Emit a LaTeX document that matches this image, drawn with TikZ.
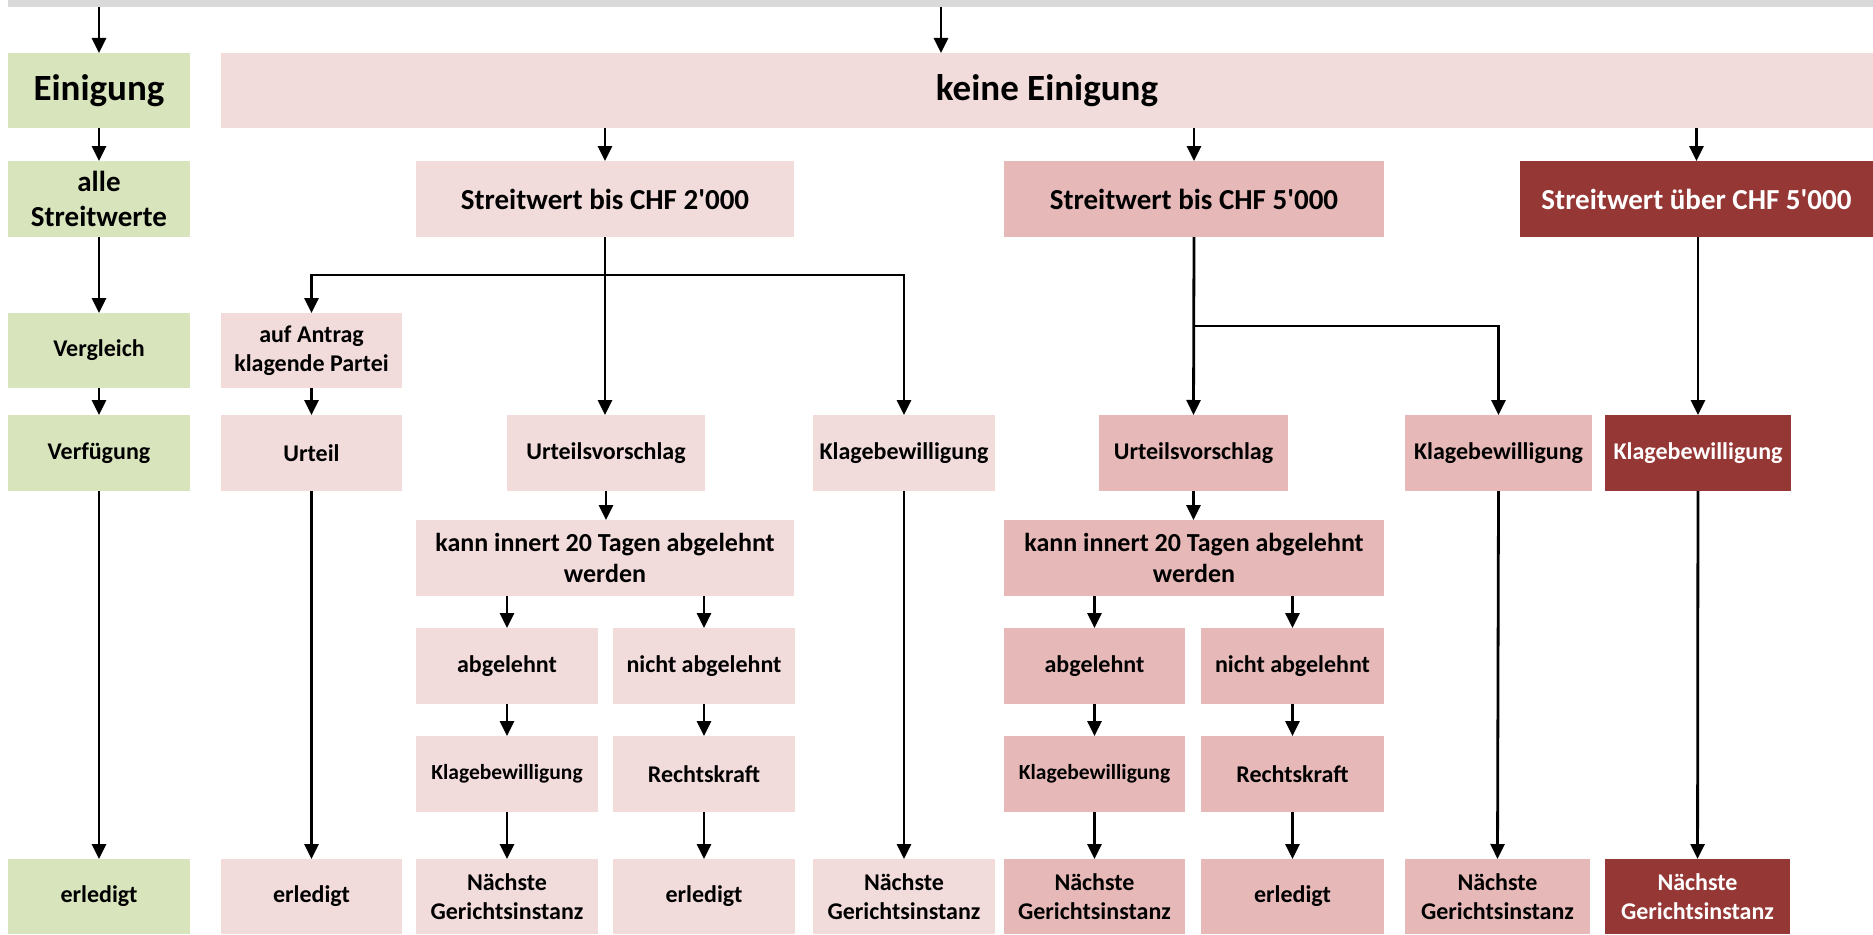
\documentclass[tikz,border=0pt]{standalone}
\usepackage{fontspec}
\setmainfont{Carlito}
\usetikzlibrary{arrows.meta}
\definecolor{cgreen}{HTML}{D8E4BC}
\definecolor{cpinkA}{HTML}{F2DCDB}
\definecolor{cpinkB}{HTML}{E6B9B8}
\definecolor{cdark}{HTML}{953735}
\definecolor{cgray}{HTML}{D9D9D9}
\newcommand\bx[7]{\node[box,#6,minimum width={(#4-#2)*1pt},minimum height={(#5-#3)*1pt}] (#1) at ({(#2+#4)/2},{(#3+#5)/2}) {#7};}
\tikzset{
  box/.style={rectangle, inner sep=0pt, outer sep=0pt, align=center, draw=none,
    font=\bfseries\fontsize{24}{29}\selectfont, text=black},
  gr/.style={fill=cgreen},
  pa/.style={fill=cpinkA},
  pb/.style={fill=cpinkB},
  dk/.style={fill=cdark, text=white},
  big/.style={font=\bfseries\fontsize{37}{44}\selectfont},
  head/.style={font=\bfseries\fontsize{29}{35}\selectfont},
  mid/.style={font=\bfseries\fontsize{26}{31}\selectfont},
  small/.style={font=\bfseries\fontsize{21.5}{26}\selectfont},
  arr/.style={draw=black, line width=2.8pt, -{Triangle[length=15pt,width=14pt]}},
  ln/.style={draw=black, line width=2.8pt}
}
\begin{document}
\begin{tikzpicture}[x=1pt,y=-1pt]
\useasboundingbox (0,0) rectangle (1873,934);
% top bar
\bx{top}{8}{0}{1873}{7}{fill=cgray}{}
% green column
\bx{ein}{8}{53}{190}{128}{gr,big}{Einigung}
\bx{alle}{8}{161}{190}{237}{gr,head}{alle\\Streitwerte}
\bx{vgl}{8}{313}{190}{388}{gr}{Vergleich}
\bx{verf}{8}{415}{190}{491}{gr}{Verfügung}
\bx{erl0}{8}{859}{190}{934}{gr}{erledigt}
% keine Einigung
\bx{keine}{221}{53}{1873}{128}{pa,big}{keine Einigung}
% column A
\bx{antrag}{221}{313}{402}{388}{pa}{auf Antrag\\klagende Partei}
\bx{urteil}{221}{415}{402}{491}{pa}{Urteil}
\bx{erl1}{221}{859}{402}{934}{pa}{erledigt}
% CHF 2000
\bx{sA}{416}{161}{794}{237}{pa,head}{Streitwert bis CHF 2\textquotesingle 000}
\bx{usA}{507}{415}{705}{491}{pa}{Urteilsvorschlag}
\bx{kannA}{416}{520}{794}{596}{pa,mid}{kann innert 20 Tagen abgelehnt\\werden}
\bx{abgA}{416}{628}{598}{704}{pa}{abgelehnt}
\bx{nabA}{613}{628}{795}{704}{pa}{nicht abgelehnt}
\bx{kbA}{416}{736}{598}{812}{pa,small}{Klagebewilligung}
\bx{rkA}{613}{736}{795}{812}{pa}{Rechtskraft}
\bx{nA}{416}{859}{598}{934}{pa}{Nächste\\Gerichtsinstanz}
\bx{erlA}{613}{859}{795}{934}{pa}{erledigt}
\bx{kbA2}{813}{415}{995}{491}{pa}{Klagebewilligung}
\bx{nA2}{813}{859}{995}{934}{pa}{Nächste\\Gerichtsinstanz}
% CHF 5000
\bx{sB}{1004}{161}{1384}{237}{pb,head}{Streitwert bis CHF 5\textquotesingle 000}
\bx{usB}{1099}{415}{1288}{491}{pb}{Urteilsvorschlag}
\bx{kannB}{1004}{520}{1384}{596}{pb,mid}{kann innert 20 Tagen abgelehnt\\werden}
\bx{abgB}{1004}{628}{1185}{704}{pb}{abgelehnt}
\bx{nabB}{1201}{628}{1384}{704}{pb}{nicht abgelehnt}
\bx{kbB}{1004}{736}{1185}{812}{pb,small}{Klagebewilligung}
\bx{rkB}{1201}{736}{1384}{812}{pb}{Rechtskraft}
\bx{nB}{1004}{859}{1185}{934}{pb}{Nächste\\Gerichtsinstanz}
\bx{erlB}{1201}{859}{1384}{934}{pb}{erledigt}
\bx{kbB2}{1405}{415}{1592}{491}{pb}{Klagebewilligung}
\bx{nB2}{1405}{859}{1590}{934}{pb}{Nächste\\Gerichtsinstanz}
% over CHF 5000
\bx{sC}{1520}{161}{1873}{237}{dk,head}{Streitwert über CHF 5\textquotesingle 000}
\bx{kbC}{1605}{415}{1791}{491}{dk}{Klagebewilligung}
\bx{nC}{1605}{859}{1790}{934}{dk}{Nächste\\Gerichtsinstanz}
% connectors
\coordinate (kx) at (941,0);
\draw[arr] (top.south -| ein.north) -- (ein.north);
\draw[arr] (top.south -| kx) -- (keine.north -| kx);
\draw[arr] (ein) -- (alle);
\draw[arr] (alle) -- (vgl);
\draw[arr] (vgl) -- (verf);
\draw[arr] (verf) -- (erl0);
\draw[arr] (keine.south -| sA.north) -- (sA.north);
\draw[arr] (keine.south -| sB.north) -- (sB.north);
\draw[arr] (keine.south -| sC.north) -- (sC.north);
% 2000 branch
\draw[arr] (sA.south) -- (usA.north -| sA.south);
\draw[arr] (sA.south) -- ++(0,38) -| (antrag.north);
\draw[arr] (sA.south) -- ++(0,38) -| (kbA2.north);
\draw[arr] (antrag) -- (urteil);
\draw[arr] (urteil) -- (erl1);
\draw[arr] (usA) -- (kannA.north -| usA.south);
\draw[arr] (kannA.south -| abgA.north) -- (abgA.north);
\draw[arr] (kannA.south -| nabA.north) -- (nabA.north);
\draw[arr] (abgA) -- (kbA);
\draw[arr] (kbA) -- (nA);
\draw[arr] (nabA) -- (rkA);
\draw[arr] (rkA) -- (erlA);
\draw[arr] (kbA2.south) -- (nA2.north);
% 5000 branch
\draw[arr] (sB.south) -- (usB.north);
\draw[arr] (sB.south) -- ++(0,89) -| (kbB2.north);
\draw[arr] (usB) -- (kannB.north -| usB.south);
\draw[arr] (kannB.south -| abgB.north) -- (abgB.north);
\draw[arr] (kannB.south -| nabB.north) -- (nabB.north);
\draw[arr] (abgB) -- (kbB);
\draw[arr] (kbB) -- (nB);
\draw[arr] (nabB) -- (rkB);
\draw[arr] (rkB) -- (erlB);
\draw[arr] (kbB2.south) -- (nB2.north);
% over 5000
\draw[arr] (sC.south -| kbC.north) -- (kbC.north);
\draw[arr] (kbC) -- (nC);
\end{tikzpicture}
\end{document}
